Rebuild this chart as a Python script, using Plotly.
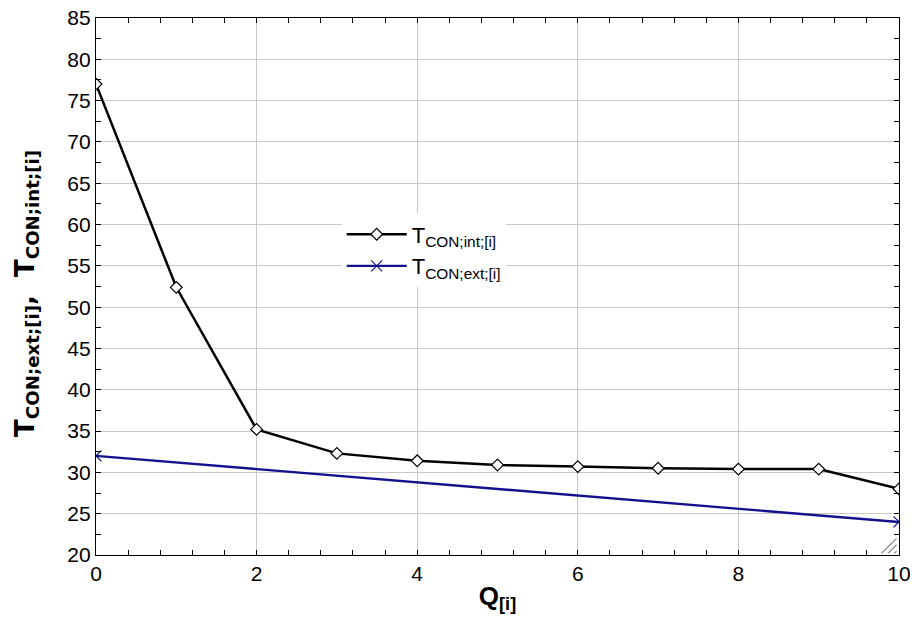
import plotly.graph_objects as go

# Heat load steps
q = [0, 1, 2, 3, 4, 5, 6, 7, 8, 9, 10]
# Internal condenser temperature per step
t_con_int = [77.0, 52.4, 35.2, 32.3, 31.4, 30.9, 30.7, 30.5, 30.4, 30.4, 28.0]
# External condenser temperature (end points of the linear profile)
q_ext = [0, 10]
t_con_ext = [32.0, 24.0]

x_ticks = [0, 2, 4, 6, 8, 10]
y_ticks = [20, 25, 30, 35, 40, 45, 50, 55, 60, 65, 70, 75, 80, 85]

FONT = "Liberation Sans, Arial"

fig = go.Figure()
fig.add_trace(go.Scatter(
    x=q, y=t_con_int, mode="lines+markers",
    name="T<sub>CON;int;[i]</sub>",
    line=dict(color="black", width=2.5),
    marker=dict(symbol="diamond", size=9, color="white",
                line=dict(color="black", width=1.2)),
))
fig.add_trace(go.Scatter(
    x=q_ext, y=t_con_ext, mode="lines+markers",
    name="T<sub>CON;ext;[i]</sub>",
    line=dict(color="#12128f", width=2.4),
    marker=dict(symbol="x-thin", size=11, color="#12128f",
                line=dict(color="#12128f", width=1.2)),
))

axis_common = dict(
    showline=True, linecolor="black", linewidth=1.2, mirror="ticks",
    ticks="inside", ticklen=5, tickcolor="black",
    showgrid=True, gridcolor="#c8c8c8", gridwidth=1,
    zeroline=False, automargin=False,
    tickfont=dict(family=FONT, size=21, color="black"),
)

fig.update_xaxes(
    range=[0, 10], tickvals=x_ticks,
    minor=dict(dtick=0.4, ticks="inside", ticklen=5, tickcolor="black", showgrid=False),
    title=dict(text="<b>Q<sub>[i]</sub></b>", standoff=2,
               font=dict(family=FONT, size=26, color="black")),
    **axis_common,
)
fig.update_yaxes(
    range=[20, 85], tickvals=y_ticks,
    minor=dict(dtick=2.5, ticks="inside", ticklen=5, tickcolor="black", showgrid=False),
    **axis_common,
)

# Rotated y-axis title
fig.add_annotation(
    text="<b>T<sub>CON;ext;[i]</sub>,&nbsp;&nbsp;T<sub>CON;int;[i]</sub></b>",
    xref="paper", yref="paper", x=-0.086, y=0.488,
    xanchor="center", yanchor="middle", textangle=-90, showarrow=False,
    font=dict(family="DejaVu Sans", size=26, color="black"),
)

# Small hatched grip in the lower-right corner
for d in [0.0, 0.008, 0.016]:
    fig.add_shape(type="line", xref="paper", yref="paper",
                  x0=0.978 + d, y0=0.003, x1=0.997, y1=0.031 - d * 1.5,
                  line=dict(color="#888888", width=1.3))

fig.update_layout(
    width=912, height=620,
    margin=dict(l=96, r=13, t=18, b=65),
    paper_bgcolor="white", plot_bgcolor="white",
    showlegend=True,
    legend=dict(x=0.306, y=0.636, xanchor="left", yanchor="top",
                bgcolor="white", borderwidth=0, tracegroupgap=0,
                font=dict(family=FONT, size=22, color="black"),
                itemwidth=60),
)

fig.write_html("out.html")
